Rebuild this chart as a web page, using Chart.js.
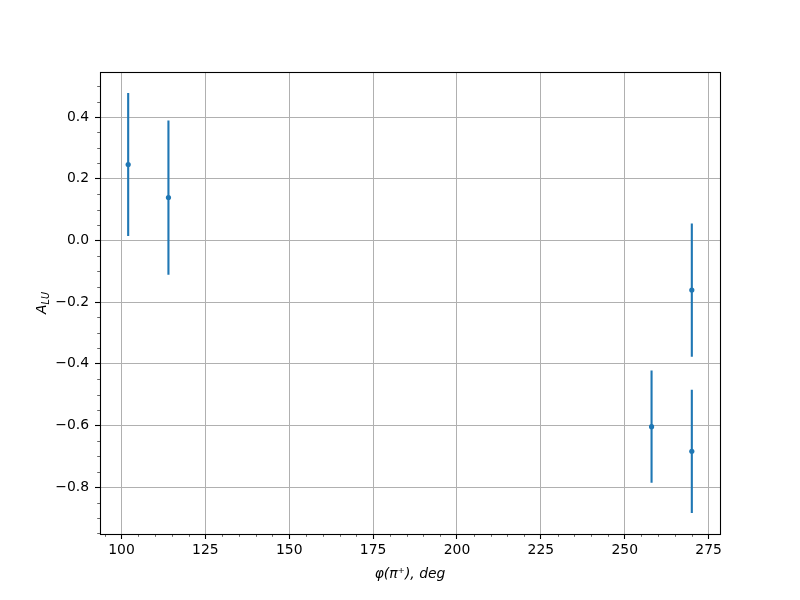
<!DOCTYPE html>
<html><head><meta charset="utf-8">
<script src="https://cdn.jsdelivr.net/npm/chart.js@4/dist/chart.umd.min.js"></script>
<style>html,body{margin:0;padding:0;background:#fff}#wrap{width:800px;height:600px}</style>
</head><body><div id="wrap"><canvas id="c" width="800" height="600"></canvas></div>
<script>
const phi = [102, 114, 258, 270, 270];
const alu = [0.246, 0.139, -0.604, -0.161, -0.684];
const aluErr = [0.232, 0.250, 0.182, 0.216, 0.200];
const xTicks = [100, 125, 150, 175, 200, 225, 250, 275];
const yTicks = [-0.8, -0.6, -0.4, -0.2, 0.0, 0.2, 0.4];
const xMinorStep = 5;
const yMinorStep = 0.05;
const xRange = [93.6, 278.4];
const yRange = [-0.952, 0.546];
const xLabel = 'φ(π⁺), deg';
const yLabelMain = 'A';
const yLabelSub = 'LU';

const BLUE = '#1f77b4';
const FONT = 'DejaVu Sans';

// error bar segments built from the data arrays (null separates segments)
const errData = [];
phi.forEach((x, i) => {
  errData.push({x: x, y: alu[i] - aluErr[i]});
  errData.push({x: x, y: alu[i] + aluErr[i]});
  errData.push({x: x, y: null});
});

const decor = {
  id: 'decor',
  afterDraw(chart) {
    const ctx = chart.ctx, a = chart.chartArea;
    const xs = chart.scales.x, ys = chart.scales.y;
    ctx.save();
    // minor ticks
    ctx.strokeStyle = '#000';
    ctx.lineWidth = 0.6;
    ctx.beginPath();
    for (let v = Math.ceil(xRange[0] / xMinorStep) * xMinorStep; v <= xRange[1]; v += xMinorStep) {
      if (Math.abs(v % 25) < 1e-9) continue;
      const px = Math.round(xs.getPixelForValue(v)) + 0.5;
      ctx.moveTo(px, a.bottom); ctx.lineTo(px, a.bottom + 2.8);
    }
    for (let k = Math.ceil(yRange[0] / yMinorStep); k * yMinorStep <= yRange[1]; k++) {
      if (k % 4 === 0) continue;
      const py = Math.round(ys.getPixelForValue(k * yMinorStep)) + 0.5;
      ctx.moveTo(a.left, py); ctx.lineTo(a.left - 2.8, py);
    }
    ctx.stroke();
    // spines
    ctx.lineWidth = 1.1;
    ctx.strokeStyle = '#000';
    ctx.strokeRect(Math.round(a.left) + 0.5, Math.round(a.top) + 0.5,
                   Math.round(a.right - a.left), Math.round(a.bottom - a.top));
    // y label with subscript
    ctx.fillStyle = '#000';
    ctx.translate(41, (a.top + a.bottom) / 2);
    ctx.rotate(-Math.PI / 2);
    const fMain = 'italic 13.9px "' + FONT + '"';
    const fSub = 'italic 9.7px "' + FONT + '"';
    ctx.font = fMain; const wA = ctx.measureText(yLabelMain).width;
    ctx.font = fSub; const wS = ctx.measureText(yLabelSub).width;
    const x0 = -(wA + wS) / 2;
    ctx.textBaseline = 'alphabetic';
    ctx.textAlign = 'left';
    ctx.font = fMain; ctx.fillText(yLabelMain, x0, 5);
    ctx.font = fSub; ctx.fillText(yLabelSub, x0 + wA, 7.5);
    ctx.restore();
  }
};

new Chart(document.getElementById('c'), {
  type: 'scatter',
  data: {
    datasets: [
      {
        type: 'line',
        data: errData,
        borderColor: BLUE,
        borderWidth: 2.1,
        pointRadius: 0,
        showLine: true,
        spanGaps: false,
        fill: false
      },
      {
        data: phi.map((x, i) => ({x: x, y: alu[i]})),
        backgroundColor: BLUE,
        borderColor: BLUE,
        pointRadius: 2.6,
        borderWidth: 0
      }
    ]
  },
  options: {
    responsive: false,
    animation: false,
    devicePixelRatio: 1,
    layout: {padding: {left: 0, top: 72, right: 80, bottom: 0}},
    plugins: {legend: {display: false}, tooltip: {enabled: false}},
    scales: {
      x: {
        type: 'linear',
        min: xRange[0], max: xRange[1],
        afterBuildTicks: s => { s.ticks = xTicks.map(v => ({value: v})); },
        afterFit: s => { s.height = 66; s.paddingLeft = 0; s.paddingRight = 0; },
        grid: {color: '#b0b0b0', lineWidth: 1, tickColor: '#000', tickLength: 5, tickWidth: 1.1, drawTicks: true},
        border: {display: false},
        ticks: {color: '#000', font: {family: FONT, size: 13.9}, padding: 3, maxRotation: 0,
                callback: v => String(v)},
        title: {display: true, text: xLabel, color: '#000',
                font: {family: FONT, size: 13.9, style: 'italic'}, padding: {top: 0, bottom: 17}}
      },
      y: {
        type: 'linear',
        min: yRange[0], max: yRange[1],
        afterBuildTicks: s => { s.ticks = yTicks.map(v => ({value: v})); },
        afterFit: s => { s.width = 100; s.paddingTop = 0; s.paddingBottom = 0; },
        grid: {color: '#b0b0b0', lineWidth: 1, tickColor: '#000', tickLength: 5, tickWidth: 1.1, drawTicks: true},
        border: {display: false},
        ticks: {color: '#000', font: {family: FONT, size: 13.9}, padding: 6,
                callback: v => v.toFixed(1).replace('-', '\u2212')}
      }
    }
  },
  plugins: [decor]
});
</script>
</body></html>
